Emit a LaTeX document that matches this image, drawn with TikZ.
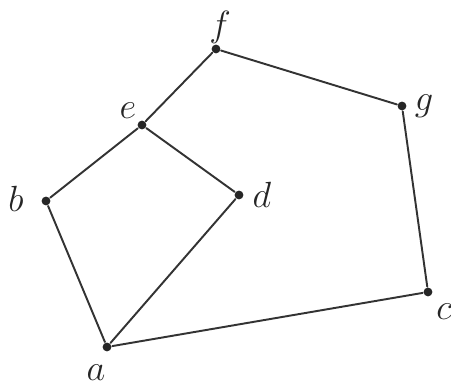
\documentclass[tikz,border=0pt]{standalone}
\usetikzlibrary{positioning}
\tikzset{
  every picture/.style={line width=1.1pt},
  vertex/.style={circle, fill=black!85, inner sep=0pt, minimum size=5pt},
  edge/.style={draw=black!80, line cap=round},
  lbl/.style={font=\huge, text=black!85},
}
\begin{document}
\begin{tikzpicture}[x=0.02cm, y=-0.02cm]
  \useasboundingbox (0,0) rectangle (451,388);
  % vertices
  \node[vertex] (f) at (216,49) {};
  \node[vertex] (g) at (402,106) {};
  \node[vertex] (e) at (142,125) {};
  \node[vertex] (b) at (46,201) {};
  \node[vertex] (d) at (239,195) {};
  \node[vertex] (c) at (428,292) {};
  \node[vertex] (a) at (107,347) {};
  % labels
  \node[lbl] (fl) at (220,27) {$f$};
  \node[lbl] (gl) at (424,106) {$g$};
  \node[lbl] (el) at (128,111) {$e$};
  \node[lbl] (bl) at (16,199) {$b$};
  \node[lbl] (dl) at (262,195) {$d$};
  \node[lbl] (cl) at (444,312) {$c$};
  \node[lbl] (al) at (96,373) {$a$};
  % edges
  \draw[edge] (f) -- (e);
  \draw[edge] (f) -- (g);
  \draw[edge] (g) -- (c);
  \draw[edge] (c) -- (a);
  \draw[edge] (a) -- (b);
  \draw[edge] (b) -- (e);
  \draw[edge] (e) -- (d);
  \draw[edge] (d) -- (a);
\end{tikzpicture}
\end{document}
